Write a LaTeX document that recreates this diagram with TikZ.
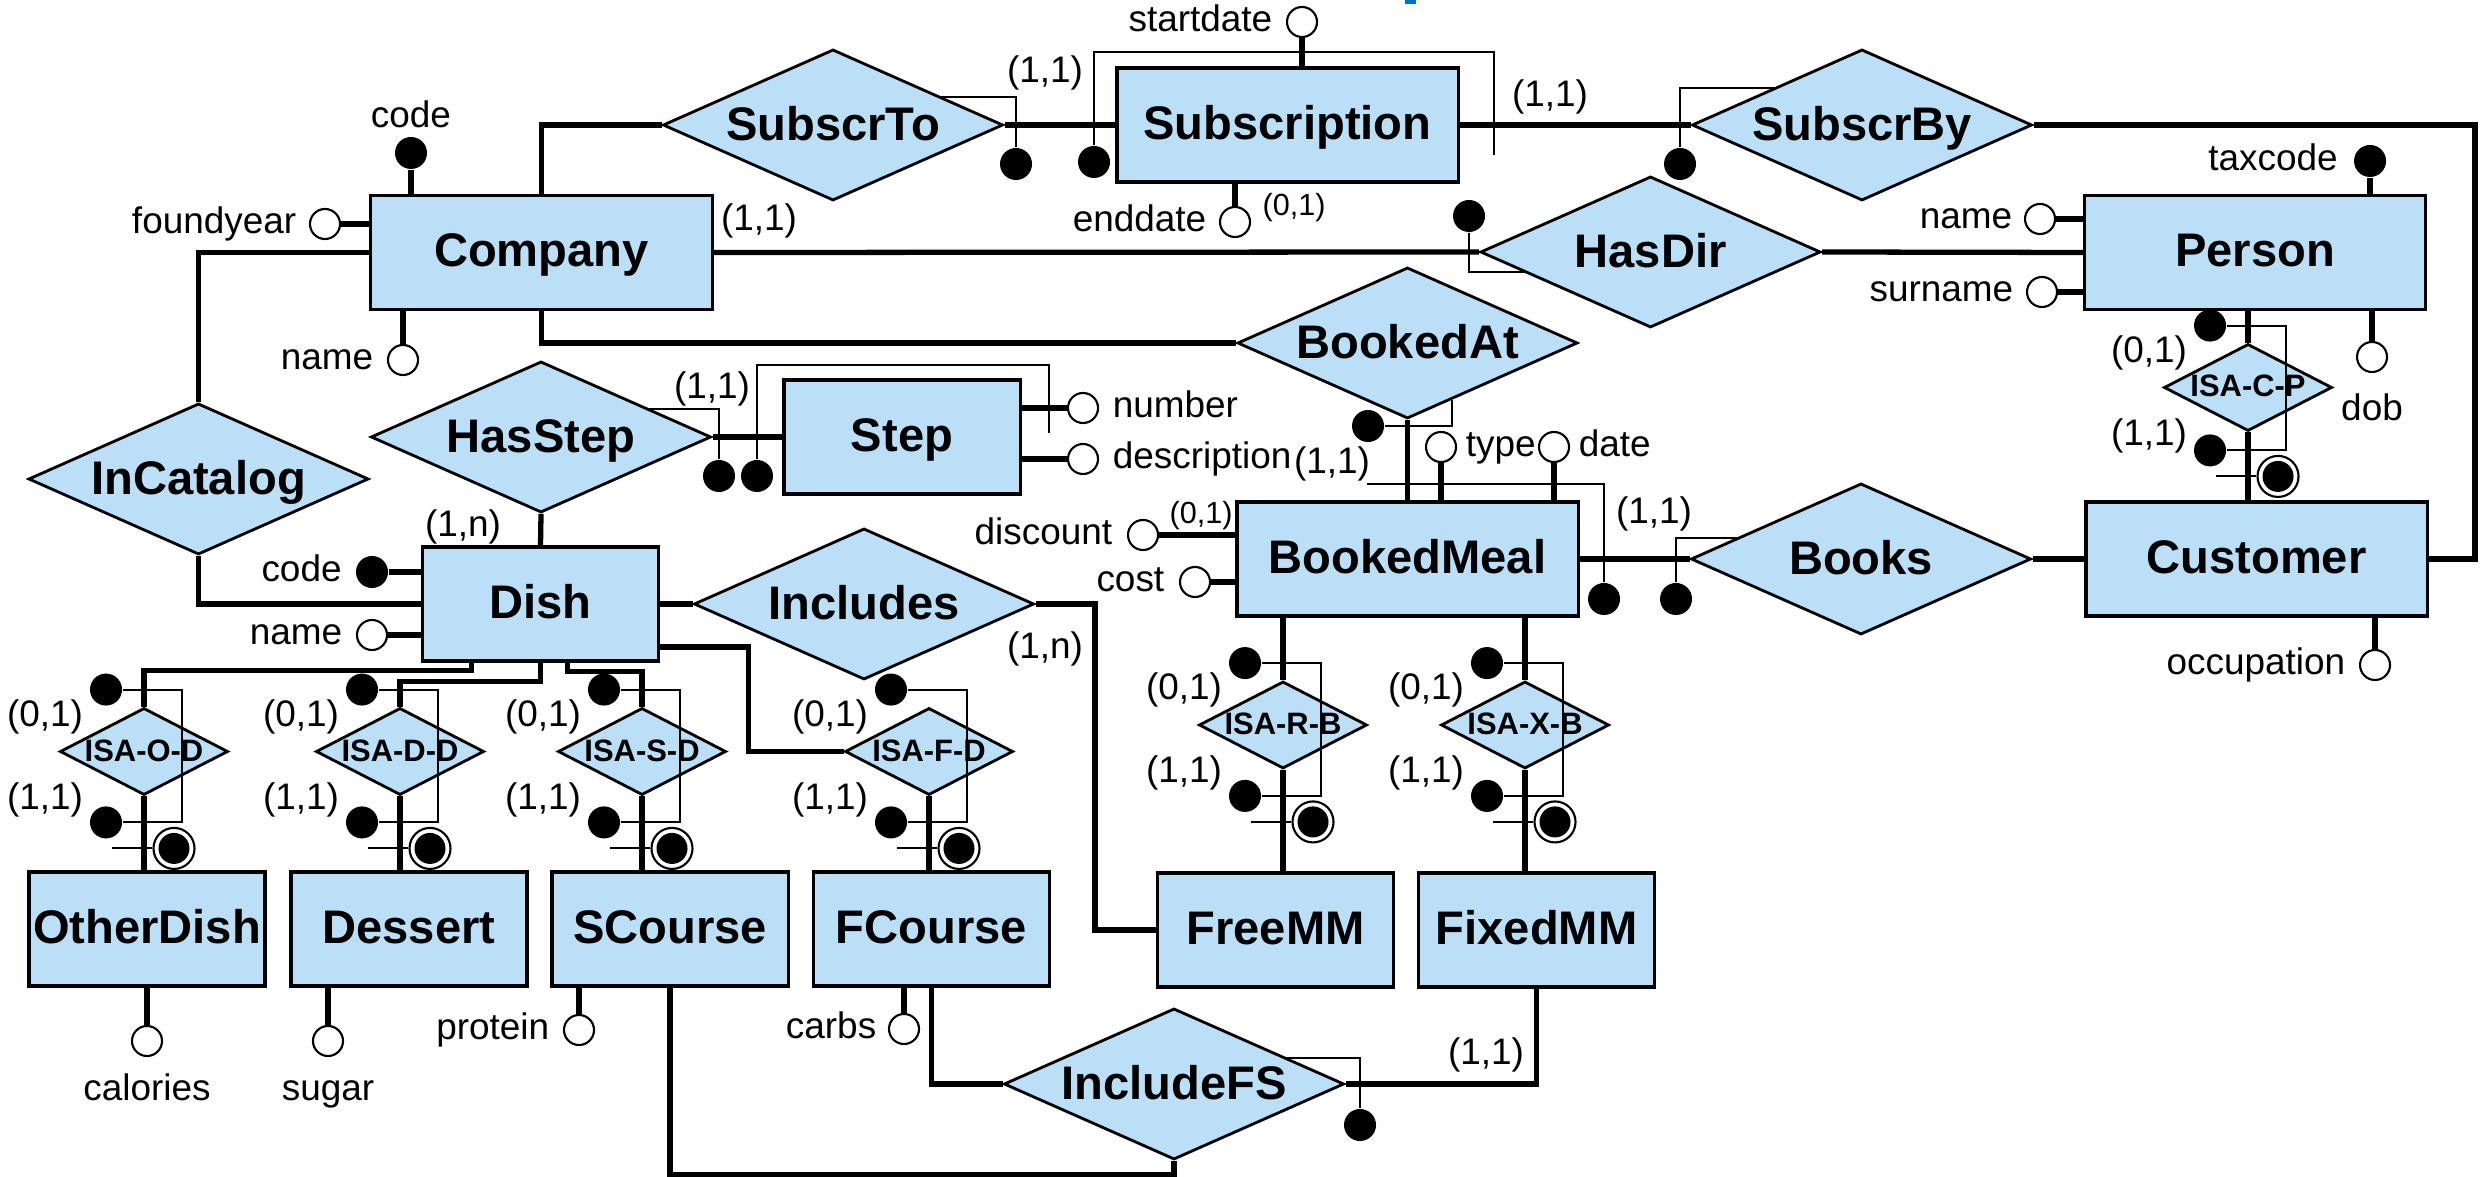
\documentclass[tikz,border=0pt]{standalone}
\usepackage{fontspec}
\setmainfont{Liberation Sans}
\usetikzlibrary{shapes.geometric,calc}
\definecolor{erblue}{RGB}{187,223,247}
\definecolor{titleblue}{RGB}{0,112,192}
\newcommand{\isastruct}[3]{%
  \node[pdot] (#1u) at ($(#1.north)+(-38,-17)$) {};
  \node[pdot] (#1l) at ($(#1.south)+(-38,#2)$) {};
  \node[dblc] (#1c) at ($(#1.south)+(30,#3)$) {};
  \fill[black] (#1c) circle (0.155cm);
  \coordinate (#1b1) at ($(#1.north)+(38,-17)$);
  \coordinate (#1b2) at ($(#1.south)+(38,#2)$);
  \coordinate (#1s) at ($(#1.south)+(-32,#3)$);
  \draw[thinl] (#1u) -- (#1b1) -- (#1b2) -- (#1l);
  \draw[thinl] (#1s) -- (#1c);
  \node[card] at ($(#1)+(-99,-35)$) {(0,1)};
  \node[card] at ($(#1)+(-99,48)$) {(1,1)};
}
\begin{document}
\begin{tikzpicture}[x=0.01cm,y=-0.01cm,
  ent/.style={rectangle, draw=black, line width=0.9pt, fill=erblue, inner sep=0pt,
    minimum width=3.41cm, minimum height=1.14cm, text height=0.34cm, text depth=0.05cm,
    font=\fontsize{13.4}{16}\selectfont\bfseries},
  ents/.style={ent, minimum width=2.36cm},
  rel/.style={diamond, aspect=2.27, draw=black, line width=0.8pt, fill=erblue, inner sep=0pt,
    minimum width=3.40cm, minimum height=1.51cm, text height=0.34cm, text depth=0.03cm,
    font=\fontsize{13.4}{16}\selectfont\bfseries},
  isad/.style={diamond, aspect=1.95, draw=black, line width=0.8pt, fill=erblue, inner sep=0pt,
    minimum width=1.68cm, minimum height=0.87cm, text height=0.22cm, text depth=0.03cm,
    font=\fontsize{8.8}{10}\selectfont\bfseries},
  attr/.style={circle, draw=black, line width=0.6pt, fill=white, inner sep=0pt, minimum size=0.30cm},
  key/.style={circle, fill=black, inner sep=0pt, minimum size=0.32cm},
  pdot/.style={circle, fill=black, inner sep=0pt, minimum size=0.32cm},
  dblc/.style={circle, draw=black, line width=0.6pt, fill=white, inner sep=0pt, minimum size=0.41cm},
  lbl/.style={font=\fontsize{10.5}{12}\selectfont, inner sep=0pt, text height=0.27cm, text depth=0.078cm},
  card/.style={font=\fontsize{10.5}{12}\selectfont, inner sep=0pt},
  scard/.style={font=\fontsize{8.7}{10}\selectfont, inner sep=0pt},
  con/.style={line width=1.5pt},
  thinl/.style={line width=0.6pt}]
\useasboundingbox (0,0) rectangle (2483,1177);

% title fragments (clipped)
\fill[titleblue] (1405,0) rectangle (1416,4);
\fill[titleblue] (2182,0) arc[start angle=180,end angle=360,x radius=16.5,y radius=4] -- cycle;

% entities
\node[ent] (company) at (541.5,252.5) {Company};
\node[ent] (subscription) at (1287.5,125) {Subscription};
\node[ent] (person) at (2255,252.5) {Person};
\node[ents] (step) at (902,437) {Step};
\node[ents] (dish) at (540.5,604) {Dish};
\node[ent] (bookedmeal) at (1407.5,559) {BookedMeal};
\node[ent] (customer) at (2256.5,559) {Customer};
\node[ents] (otherdish) at (147,929) {OtherDish};
\node[ents] (dessert) at (409,929) {Dessert};
\node[ents] (scourse) at (670,929) {SCourse};
\node[ents] (fcourse) at (931.5,929) {FCourse};
\node[ents] (freemm) at (1275.5,930) {FreeMM};
\node[ents] (fixedmm) at (1536.5,930) {FixedMM};

% relationships
\node[rel] (subscrto) at (833,125) {SubscrTo};
\node[rel] (subscrby) at (1862,125) {SubscrBy};
\node[rel] (hasdir) at (1650.5,252) {HasDir};
\node[rel] (bookedat) at (1407.5,343) {BookedAt};
\node[rel] (hasstep) at (541,437) {HasStep};
\node[rel] (incatalog) at (198.5,479) {InCatalog};
\node[rel] (includes) at (864,604) {Includes};
\node[rel] (books) at (1861,559) {Books};
\node[rel] (includefs) at (1174,1084) {IncludeFS};

% ISA diamonds
\node[isad] (isaod) at (144,751.5) {ISA-O-D};
\node[isad] (isadd) at (400,751.5) {ISA-D-D};
\node[isad] (isasd) at (642,751.5) {ISA-S-D};
\node[isad] (isafd) at (929,751.5) {ISA-F-D};
\node[isad] (isarb) at (1283,725) {ISA-R-B};
\node[isad] (isaxb) at (1525,725) {ISA-X-B};
\node[isad] (isacp) at (2248,387.5) {ISA-C-P};

% connectors
\draw[con] (company.north) |- (subscrto.west);
\draw[con] (subscrto.east) -- (subscription.west);
\draw[con] (subscription.east) -- (subscrby.west);
\coordinate (cr) at (2475,559);
\draw[con] (subscrby.east) -| (cr) -- (customer.east);
\draw[con] (company.east) -- (hasdir.west);
\draw[con] (hasdir.east) -- (person.west);
\draw[con] (company.south) |- (bookedat.west);
\draw[con] (bookedat.south) -- (bookedmeal.north);
\draw[con] (bookedmeal.east) -- (books.west);
\draw[con] (books.east) -- (customer.west);
\draw[con] (company.west) -| (incatalog.north);
\draw[con] (incatalog.south) |- (dish.west);
\draw[con] (hasstep.south) -- (dish.north);
\draw[con] (hasstep.east) -- (step.west);
\draw[con] (dish.east) -- (includes.west);
\coordinate (incr) at (1095,604);
\draw[con] (includes.east) -- (incr) |- (freemm.west);
\draw[con] (fixedmm.south) |- (includefs.east);
\draw[con] (fcourse.south) |- (includefs.west);
\coordinate (ifsb) at (1174,1175);
\draw[con] (scourse.south) |- (ifsb) -- (includefs.south);

% dish to ISA
\draw[con] ($(dish.south west)+(51,0)$) -- ++(0,8) -| (isaod.north);
\draw[con] (dish.south) -- ++(0,19) -| (isadd.north);
\draw[con] ($(dish.south west)+(147,0)$) -- ++(0,9) -| (isasd.north);
\draw[con] ($(dish.east)+(0,43)$) -- ++(88,0) |- (isafd.west);
\draw[con] (isaod.south) -- (isaod.south |- otherdish.north);
\draw[con] (isadd.south) -- (isadd.south |- dessert.north);
\draw[con] (isasd.south) -- (isasd.south |- scourse.north);
\draw[con] (isafd.south) -- (isafd.south |- fcourse.north);
\draw[con] (isarb.north |- bookedmeal.south) -- (isarb.north);
\draw[con] (isarb.south) -- (isarb.south |- freemm.north);
\draw[con] (isaxb.north |- bookedmeal.south) -- (isaxb.north);
\draw[con] (isaxb.south) -- (isaxb.south |- fixedmm.north);
\draw[con] (isacp.north |- person.south) -- (isacp.north);
\draw[con] (isacp.south) -- (isacp.south |- customer.north);

\isastruct{isaod}{26}{52}
\isastruct{isadd}{26}{52}
\isastruct{isasd}{26}{52}
\isastruct{isafd}{26}{52}
\isastruct{isarb}{26}{52}
\isastruct{isaxb}{26}{52}
\isastruct{isacp}{18}{44}

% attributes: Company
\node[key, label={[lbl,label distance=0cm]above:code}] (ccode) at (411,153) {};
\draw[con] (ccode) -- (ccode |- company.north);
\node[attr, label={[lbl,label distance=0.12cm]left:foundyear}] (cfound) at (325,224) {};
\draw[con] (cfound) -- (cfound -| company.west);
\node[attr, label={[lbl,label distance=0.13cm]left:name}] (cname) at (403,360) {};
\draw[con] (cname) -- (cname |- company.south);
% Subscription
\node[attr, label={[lbl,label distance=0.13cm]left:startdate}] (sstart) at (1302,22) {};
\draw[con] (sstart) -- (sstart |- subscription.north);
\node[attr, label={[lbl,label distance=0.12cm]left:enddate}] (send) at (1235,222) {};
\draw[con] (send) -- (send |- subscription.south);
\node[scard] at (1294,208) {(0,1)};
% Person
\node[key, label={[lbl,label distance=0.15cm]left:taxcode}] (ptax) at (2370,161) {};
\draw[con] (ptax) -- (ptax |- person.north);
\node[attr, label={[lbl,label distance=0.11cm]left:name}] (pname) at (2040,219) {};
\draw[con] (pname) -- (pname -| person.west);
\node[attr, label={[lbl,label distance=0.12cm]left:surname}] (psur) at (2042,292) {};
\draw[con] (psur) -- (psur -| person.west);
\node[attr, label={[lbl,label distance=0.2cm]below:dob}] (pdob) at (2372,357) {};
\draw[con] (pdob) -- (pdob |- person.south);
% Step
\node[attr, label={[lbl,label distance=0.13cm]right:number}] (snum) at (1083,408) {};
\draw[con] (snum) -- (snum -| step.east);
\node[attr, label={[lbl,label distance=0.13cm]right:description}] (sdesc) at (1083,459) {};
\draw[con] (sdesc) -- (sdesc -| step.east);
% BookedMeal
\node[attr, label={[lbl,label distance=0.08cm]right:type}] (btype) at (1441,447) {};
\draw[con] (btype) -- (btype |- bookedmeal.north);
\node[attr, label={[lbl,label distance=0.08cm]right:date}] (bdate) at (1554,447) {};
\draw[con] (bdate) -- (bdate |- bookedmeal.north);
\node[attr, label={[lbl,label distance=0.14cm]left:discount}] (bdisc) at (1143,535) {};
\draw[con] (bdisc) -- (bdisc -| bookedmeal.west);
\node[scard] at (1201,516) {(0,1)};
\node[attr, label={[lbl,label distance=0.14cm]left:cost}] (bcost) at (1195,582) {};
\draw[con] (bcost) -- (bcost -| bookedmeal.west);
% Customer
\node[attr, label={[lbl,label distance=0.13cm]left:occupation}] (cocc) at (2375,665) {};
\draw[con] (cocc) -- (cocc |- customer.south);
% Dish
\node[key, label={[lbl,label distance=0.13cm]left:code}] (dcode) at (372,572) {};
\draw[con] (dcode) -- (dcode -| dish.west);
\node[attr, label={[lbl,label distance=0.13cm]left:name}] (dname) at (372,635) {};
\draw[con] (dname) -- (dname -| dish.west);
% sub-dishes
\node[attr, label={[lbl,label distance=0.16cm]below:calories}] (ocal) at (147,1041) {};
\draw[con] (ocal) -- (ocal |- otherdish.south);
\node[attr, label={[lbl,label distance=0.16cm]below:sugar}] (dsug) at (328,1041) {};
\draw[con] (dsug) -- (dsug |- dessert.south);
\node[attr, label={[lbl,label distance=0.13cm]left:protein}] (sprot) at (579,1030) {};
\draw[con] (sprot) -- (sprot |- scourse.south);
\node[attr, label={[lbl,label distance=0.11cm]left:carbs}] (fcarb) at (904,1029) {};
\draw[con] (fcarb) -- (fcarb |- fcourse.south);

% participation / identifier marks
\node[pdot] (p1) at (1016,164) {}; \coordinate (e1) at (941,97);
\draw[thinl] (p1) |- (e1);
\node[pdot] (p2) at (1094,162) {}; \coordinate (c2a) at (1494,52); \coordinate (c2b) at (1494,155);
\draw[thinl] (p2) |- (c2a) -- (c2b);
\node[pdot] (p3) at (1680,164) {}; \coordinate (e3) at (1775,88);
\draw[thinl] (p3) |- (e3);
\node[pdot] (p4) at (1469,216) {}; \coordinate (e4) at (1526,272);
\draw[thinl] (p4) |- (e4);
\node[pdot] (p5) at (719,476) {}; \coordinate (e5) at (649,409);
\draw[thinl] (p5) |- (e5);
\node[pdot] (p6) at (757,476) {}; \coordinate (c6a) at (1049,365); \coordinate (c6b) at (1049,433);
\draw[thinl] (p6) |- (c6a) -- (c6b);
\node[pdot] (p7) at (1368,426) {}; \coordinate (e7) at (1452,400);
\draw[thinl] (p7) -| (e7);
\node[pdot] (p8) at (1604,599) {}; \coordinate (c8a) at (1367,484);
\draw[thinl] (p8) |- (c8a);
\node[pdot] (p9) at (1676,599) {}; \coordinate (e9) at (1738,538);
\draw[thinl] (p9) |- (e9);
\node[pdot] (p10) at (1360,1125) {}; \coordinate (e10) at (1284,1058);
\draw[thinl] (p10) |- (e10);

% cardinalities
\node[card] at (1045,73) {(1,1)};
\node[card] at (1550,97) {(1,1)};
\node[card] at (759,221) {(1,1)};
\node[card] at (712,389) {(1,1)};
\node[card] at (463,527) {(1,n)};
\node[card] at (1332,464) {(1,1)};
\node[card] at (1654,514) {(1,1)};
\node[card] at (1045,649) {(1,n)};
\node[card] at (1486,1055) {(1,1)};
\end{tikzpicture}
\end{document}
